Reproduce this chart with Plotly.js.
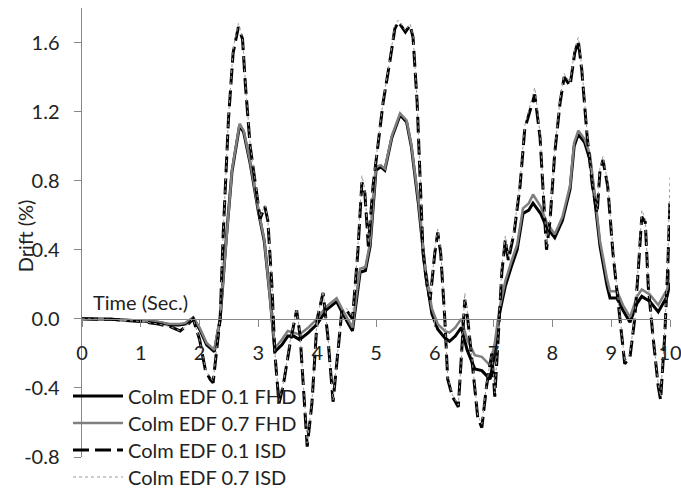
<!DOCTYPE html>
<html>
<head>
<meta charset="utf-8">
<script src="https://cdn.plot.ly/plotly-3.0.1.min.js"></script>
<style>html,body{margin:0;padding:0;background:#fff;}#chart{width:681px;height:493px;}</style>
</head>
<body>
<div id="chart"></div>
<script>
// ---- data ----
const seriesNames = ["Colm EDF 0.1 FHD", "Colm EDF 0.7 FHD", "Colm EDF 0.1 ISD", "Colm EDF 0.7 ISD"];

const tFHD = [0,0.5,1.0,1.3,1.5,1.65,1.75,1.89,2.0,2.12,2.25,2.35,2.45,2.55,2.68,2.75,2.86,3.0,3.1,3.2,3.28,3.4,3.5,3.6,3.7,3.85,4.0,4.15,4.33,4.45,4.6,4.68,4.73,4.82,4.9,5.0,5.08,5.15,5.27,5.41,5.52,5.6,5.72,5.84,5.95,6.05,6.17,6.25,6.35,6.45,6.55,6.68,6.8,6.94,7.02,7.1,7.2,7.3,7.4,7.5,7.6,7.67,7.8,7.9,8.04,8.17,8.3,8.37,8.44,8.55,8.64,8.72,8.81,8.93,8.98,9.1,9.2,9.32,9.44,9.52,9.66,9.8,9.95,10.0];

const fhd01 = [0,-0.003,-0.012,-0.02,-0.035,-0.035,-0.03,0.005,-0.06,-0.15,-0.19,0.0,0.45,0.85,1.12,1.08,0.90,0.62,0.45,0.12,-0.19,-0.15,-0.10,-0.10,-0.12,-0.08,-0.03,0.05,0.10,0.02,-0.07,0.15,0.27,0.28,0.42,0.86,0.88,0.86,1.05,1.18,1.14,1.0,0.67,0.27,0.03,-0.06,-0.11,-0.13,-0.10,-0.05,-0.18,-0.29,-0.30,-0.35,-0.20,0.03,0.19,0.30,0.40,0.61,0.63,0.67,0.61,0.53,0.47,0.57,0.75,1.0,1.07,1.02,0.92,0.69,0.42,0.19,0.12,0.12,0.05,-0.02,0.09,0.13,0.10,0.04,0.13,0.21];

const fhd07 = [0,-0.003,-0.01,-0.018,-0.03,-0.03,-0.025,0.008,-0.05,-0.14,-0.18,0.01,0.46,0.86,1.13,1.09,0.91,0.63,0.46,0.13,-0.17,-0.12,-0.07,-0.08,-0.09,-0.05,0.0,0.07,0.12,0.04,-0.05,0.17,0.29,0.30,0.44,0.88,0.89,0.87,1.06,1.19,1.15,1.01,0.69,0.29,0.06,-0.03,-0.07,-0.08,-0.05,0.0,-0.12,-0.21,-0.22,-0.27,-0.14,0.06,0.22,0.33,0.43,0.64,0.67,0.72,0.65,0.56,0.49,0.59,0.77,1.02,1.09,1.04,0.95,0.72,0.45,0.23,0.16,0.16,0.08,0.01,0.13,0.17,0.14,0.08,0.17,0.28];

const tISD = [0,0.5,1.0,1.3,1.5,1.67,1.78,1.89,2.0,2.1,2.18,2.23,2.3,2.35,2.4,2.49,2.57,2.66,2.73,2.78,2.86,2.95,3.03,3.11,3.16,3.23,3.28,3.35,3.42,3.54,3.65,3.71,3.79,3.83,3.91,4.0,4.1,4.18,4.27,4.35,4.42,4.5,4.6,4.69,4.76,4.81,4.87,4.95,5.0,5.12,5.24,5.32,5.38,5.5,5.58,5.63,5.7,5.75,5.8,5.87,5.92,6.0,6.05,6.1,6.17,6.22,6.3,6.4,6.46,6.51,6.56,6.65,6.73,6.8,6.88,6.97,7.02,7.08,7.14,7.2,7.25,7.35,7.45,7.53,7.62,7.7,7.79,7.84,7.9,7.96,8.04,8.13,8.2,8.3,8.38,8.44,8.5,8.59,8.68,8.76,8.81,8.86,8.94,9.03,9.12,9.18,9.23,9.32,9.4,9.46,9.52,9.58,9.63,9.71,9.8,9.84,9.91,9.96,10.0];

const isd01 = [0,-0.003,-0.015,-0.03,-0.045,-0.07,-0.04,0.0,-0.12,-0.30,-0.35,-0.37,-0.15,0.0,0.48,1.15,1.54,1.69,1.62,1.35,1.0,0.77,0.58,0.65,0.57,0.19,-0.20,-0.49,-0.39,-0.14,0.05,-0.10,-0.49,-0.74,-0.49,0.0,0.15,-0.10,-0.48,-0.20,0.05,0.05,0.0,0.38,0.79,0.73,0.42,0.77,0.92,1.25,1.50,1.68,1.72,1.66,1.70,1.63,1.25,0.77,0.38,0.19,0.11,0.38,0.50,0.38,0.0,-0.35,-0.45,-0.51,-0.20,0.11,0.0,-0.30,-0.57,-0.63,-0.39,-0.20,-0.45,-0.10,0.27,0.46,0.34,0.50,0.77,1.10,1.21,1.30,1.05,0.77,0.40,0.57,0.96,1.25,1.40,1.35,1.54,1.61,1.44,1.06,0.77,0.61,0.86,0.92,0.77,0.38,0.09,-0.10,-0.26,-0.22,0.0,0.28,0.59,0.56,0.19,-0.10,-0.39,-0.47,-0.10,0.28,0.69];

const isd07 = [0,-0.003,-0.015,-0.03,-0.045,-0.07,-0.04,0.0,-0.12,-0.29,-0.34,-0.36,-0.14,0.01,0.49,1.16,1.56,1.71,1.63,1.36,1.01,0.78,0.59,0.66,0.58,0.20,-0.19,-0.48,-0.38,-0.13,0.06,-0.09,-0.48,-0.72,-0.48,0.01,0.16,-0.09,-0.47,-0.19,0.06,0.06,0.01,0.40,0.83,0.75,0.44,0.78,0.93,1.26,1.51,1.70,1.73,1.67,1.71,1.64,1.26,0.78,0.39,0.20,0.12,0.40,0.52,0.40,0.01,-0.34,-0.44,-0.50,-0.19,0.15,0.02,-0.29,-0.56,-0.61,-0.38,-0.19,-0.43,-0.08,0.30,0.48,0.36,0.52,0.79,1.12,1.24,1.34,1.07,0.79,0.42,0.59,0.98,1.27,1.42,1.37,1.56,1.63,1.46,1.08,0.79,0.63,0.88,0.94,0.79,0.40,0.11,-0.09,-0.25,-0.20,0.02,0.30,0.63,0.58,0.21,-0.09,-0.38,-0.45,-0.08,0.32,0.82];

const xTickVals = [0,1,2,3,4,5,6,7,8,9,10];
const yTickVals = [-0.8,-0.4,0.0,0.4,0.8,1.2,1.6];
const yTickLabels = ["-0.8","-0.4","0.0","0.4","0.8","1.2","1.6"];

// ---- chart ----
const FONT = "Lato, 'Open Sans', sans-serif";
const TXT = "#222222";
const traces = [
  {x: tFHD, y: fhd01, name: seriesNames[0], legend: "legend",  line: {color: "#000000", width: 3}},
  {x: tFHD, y: fhd07, name: seriesNames[1], legend: "legend2", line: {color: "#7f7f7f", width: 2.5}},
  {x: tISD, y: isd01, name: seriesNames[2], legend: "legend3", line: {color: "#000000", width: 3, dash: "16px,6px"}},
  {x: tISD, y: isd07, name: seriesNames[3], legend: "legend4", line: {color: "#9a9a9a", width: 1, dash: "dot"}}
].map(t => Object.assign({type: "scatter", mode: "lines"}, t));

function legendAt(yc) {
  return {
    xref: "container", yref: "container",
    x: 68 / 681, y: 1 - yc / 493, xanchor: "left", yanchor: "middle",
    bgcolor: "rgba(0,0,0,0)", font: {family: FONT, size: 20, color: TXT},
    itemwidth: 50
  };
}

const layout = {
  width: 681, height: 493,
  margin: {l: 82, r: 11, t: 8, b: 36, autoexpand: false},
  paper_bgcolor: "#ffffff", plot_bgcolor: "rgba(0,0,0,0)",
  font: {family: FONT, size: 20, color: TXT},
  showlegend: true,
  legend: legendAt(396),
  legend2: legendAt(423),
  legend3: legendAt(450),
  legend4: legendAt(477),
  xaxis: {
    range: [0, 10], anchor: "free", position: 0.8 / 2.6,
    tickvals: xTickVals, ticks: "outside", ticklen: 7, tickcolor: "#888888",
    showline: true, linecolor: "#888888", linewidth: 1.5,
    showgrid: false, zeroline: false, ticklabelstandoff: 9,
    ticklabeloverflow: "allow",
    tickfont: {family: FONT, size: 20, color: TXT}
  },
  yaxis: {
    range: [-0.8, 1.8], tickvals: yTickVals, ticktext: yTickLabels,
    ticks: "outside", ticklen: 7, tickcolor: "#888888",
    showline: true, linecolor: "#888888", linewidth: 1.5,
    showgrid: false, zeroline: false, ticklabelstandoff: 10,
    ticklabeloverflow: "allow",
    tickfont: {family: FONT, size: 20, color: TXT}
  },
  annotations: [
    {text: "Time (Sec.)", xref: "x", yref: "y", x: 0.16, y: 0.099, xanchor: "left", yanchor: "middle",
     showarrow: false, font: {family: FONT, size: 20, color: TXT}},
    {text: "Drift (%)", xref: "paper", yref: "paper", x: -0.097, y: 0.494, xanchor: "center", yanchor: "middle",
     textangle: -90, showarrow: false, font: {family: FONT, size: 20, color: TXT}}
  ]
};

Plotly.newPlot("chart", traces, layout, {displayModeBar: false, staticPlot: true});
</script>
</body>
</html>
